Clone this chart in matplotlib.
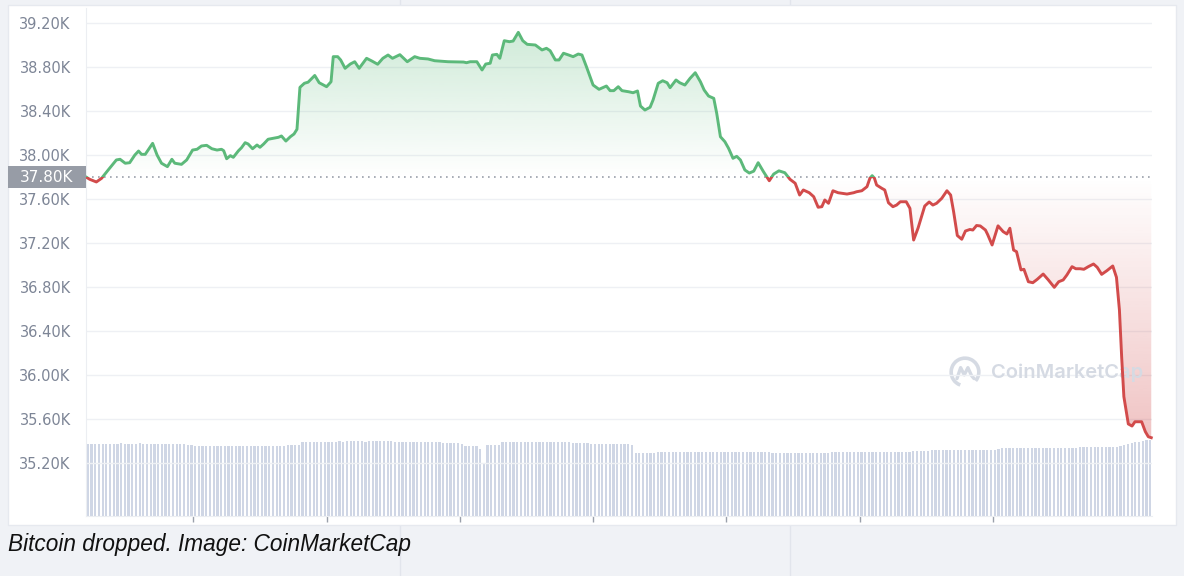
import numpy as np
import matplotlib.pyplot as plt
from matplotlib.patches import Rectangle, Arc
from matplotlib.path import Path
from matplotlib.lines import Line2D
from matplotlib.colors import to_rgb

# price (thousand USD) at minutes since start of the 24h window
minutes = [0, 5, 14, 21, 30, 41, 46, 53, 59, 66,
           71, 75, 80, 90, 96, 102, 110, 116, 120, 129,
           136, 144, 150, 156, 163, 170, 177, 183, 186, 190,
           195, 199, 206, 210, 215, 219, 225, 231, 235, 240,
           246, 253, 260, 264, 270, 276, 281, 285, 289, 295,
           300, 309, 315, 325, 331, 334, 340, 344, 350, 357,
           363, 369, 379, 386, 394, 401, 408, 414, 424, 434,
           444, 451, 462, 471, 489, 510, 514, 519, 528, 535,
           540, 546, 549, 555, 559, 565, 572, 577, 584, 590,
           596, 607, 616, 622, 627, 634, 639, 645, 652, 658,
           665, 670, 676, 685, 693, 703, 708, 713, 719, 724,
           733, 739, 745, 749, 755, 762, 766, 773, 779, 785,
           789, 797, 802, 809, 816, 823, 830, 835, 841, 848,
           852, 857, 863, 868, 874, 879, 884, 890, 896, 902,
           908, 915, 923, 929, 936, 944, 951, 958, 964, 969,
           977, 983, 989, 994, 998, 1003, 1009, 1016, 1028, 1037,
           1041, 1048, 1055, 1059, 1062, 1065, 1068, 1075, 1079, 1084,
           1090, 1095, 1100, 1108, 1113, 1118, 1124, 1133, 1139, 1144,
           1149, 1156, 1163, 1168, 1172, 1177, 1183, 1188, 1194, 1198,
           1203, 1208, 1215, 1218, 1224, 1232, 1239, 1244, 1248, 1253,
           1257, 1263, 1267, 1273, 1279, 1285, 1293, 1300, 1308, 1314,
           1320, 1325, 1332, 1337, 1343, 1348, 1354, 1361, 1366, 1372,
           1379, 1387, 1392, 1396, 1399, 1402, 1408, 1413, 1417, 1426,
           1431, 1435, 1439]
price_k = [37.800, 37.779, 37.755, 37.788, 37.864, 37.955, 37.961, 37.925, 37.930, 38.000,
           38.036, 38.006, 38.006, 38.106, 38.000, 37.925, 37.894, 37.961, 37.925, 37.915,
           37.955, 38.045, 38.052, 38.082, 38.088, 38.057, 38.045, 38.052, 38.039, 37.966,
           37.994, 37.979, 38.039, 38.066, 38.112, 38.100, 38.057, 38.091, 38.070, 38.100,
           38.143, 38.152, 38.161, 38.173, 38.127, 38.166, 38.191, 38.234, 38.615, 38.652,
           38.662, 38.723, 38.657, 38.621, 38.666, 38.894, 38.894, 38.864, 38.788, 38.827,
           38.848, 38.788, 38.879, 38.855, 38.825, 38.879, 38.909, 38.879, 38.912, 38.848,
           38.894, 38.879, 38.873, 38.857, 38.848, 38.845, 38.839, 38.848, 38.848, 38.773,
           38.827, 38.834, 38.909, 38.915, 38.879, 39.039, 39.030, 39.036, 39.115, 39.039,
           39.006, 39.000, 38.955, 38.970, 38.948, 38.864, 38.864, 38.925, 38.909, 38.894,
           38.918, 38.909, 38.803, 38.636, 38.597, 38.627, 38.585, 38.585, 38.621, 38.585,
           38.575, 38.566, 38.582, 38.445, 38.409, 38.434, 38.500, 38.652, 38.675, 38.657,
           38.612, 38.682, 38.657, 38.636, 38.697, 38.748, 38.666, 38.591, 38.536, 38.515,
           38.379, 38.166, 38.121, 38.061, 37.970, 37.988, 37.955, 37.864, 37.836, 37.853,
           37.930, 37.850, 37.766, 37.827, 37.856, 37.839, 37.779, 37.743, 37.636, 37.682,
           37.657, 37.621, 37.525, 37.530, 37.591, 37.561, 37.675, 37.657, 37.645, 37.657,
           37.666, 37.675, 37.712, 37.790, 37.812, 37.790, 37.727, 37.697, 37.682, 37.566,
           37.530, 37.545, 37.575, 37.575, 37.515, 37.227, 37.336, 37.536, 37.573, 37.545,
           37.561, 37.606, 37.675, 37.636, 37.485, 37.268, 37.234, 37.309, 37.323, 37.318,
           37.359, 37.355, 37.318, 37.277, 37.182, 37.356, 37.303, 37.282, 37.334, 37.136,
           37.121, 36.955, 36.961, 36.848, 36.839, 36.870, 36.918, 36.864, 36.797, 36.848,
           36.864, 36.909, 36.985, 36.966, 36.966, 36.961, 36.985, 37.009, 36.979, 36.915,
           36.948, 36.991, 36.888, 36.591, 36.166, 35.803, 35.555, 35.536, 35.575, 35.575,
           35.485, 35.439, 35.430]

# 24h volume (bn USD), one bar per 5 minutes
volume_bn = [24.2, 24.1, 24.2, 24.2, 24.0, 24.1, 24.2, 24.1, 24.1, 24.3,
             24.2, 24.1, 24.1, 24.2, 24.3, 24.2, 24.1, 24.2, 24.1, 24.1,
             24.2, 24.1, 24.2, 24.1, 24.1, 24.2, 24.0, 23.9,
             23.6, 23.5, 23.5, 23.4, 23.5, 23.5, 23.4, 23.5, 23.4, 23.4,
             23.5, 23.4, 23.4, 23.4, 23.4, 23.4, 23.5, 23.4, 23.4, 23.4,
             23.4, 23.5, 23.5, 23.4, 23.5, 23.5, 23.6, 23.6, 23.6, 23.7,
             24.7, 24.8, 24.8, 24.8, 24.9, 24.8, 24.9, 24.9, 24.9, 24.9,
             25.0, 24.9, 25.0, 25.0, 25.0, 25.0, 25.0, 24.9, 25.0, 25.0,
             25.0, 25.0, 25.0, 25.0, 25.0, 24.9, 24.9, 24.9, 24.9, 24.9,
             24.9, 24.8, 24.8, 24.8, 24.8, 24.8, 24.7, 24.7,
             24.3, 24.3, 24.3, 24.3, 24.3, 24.2,
             23.4, 23.4, 23.3, 23.4, 22.4, 17.4, 23.7, 23.7, 23.8, 23.9,
             24.6, 24.7, 24.7, 24.8, 24.8, 24.8, 24.8, 24.8, 24.8, 24.8,
             24.8, 24.8, 24.7, 24.7, 24.7, 24.7, 24.6, 24.6, 24.6, 24.5,
             24.5, 24.5, 24.4, 24.4,
             24.1, 24.1, 24.1, 24.0, 24.0, 24.0, 24.0, 24.0, 24.0, 24.0, 24.0, 23.9,
             21.2, 21.2, 21.2, 21.2, 21.2, 21.2, 21.3, 21.3, 21.4, 21.4,
             21.4, 21.4, 21.4, 21.4, 21.4, 21.3, 21.3, 21.3, 21.3, 21.3,
             21.3, 21.3, 21.3, 21.3, 21.3, 21.3, 21.4, 21.4, 21.4,
             21.4, 21.4, 21.4, 21.3, 21.3, 21.3, 21.3, 21.3, 21.2, 21.2,
             21.2, 21.2, 21.2, 21.2, 21.2, 21.2, 21.2, 21.2, 21.2, 21.2,
             21.2, 21.2, 21.2, 21.2, 21.3, 21.3, 21.3, 21.3, 21.3, 21.3,
             21.3, 21.3, 21.3, 21.3, 21.4, 21.4, 21.4, 21.4, 21.4, 21.4,
             21.4, 21.5, 21.5,
             21.5, 21.5, 21.5, 21.6, 21.6, 21.6, 21.7, 21.7,
             22.0, 22.0, 22.0, 22.1, 22.1, 22.1, 22.1, 22.1, 22.1, 22.1,
             22.1, 22.1, 22.1, 22.1, 22.2, 22.2, 22.2, 22.2, 22.3,
             22.6, 22.6, 22.6, 22.7, 22.7, 22.7, 22.7, 22.7, 22.7, 22.7,
             22.7, 22.7, 22.8, 22.8, 22.8, 22.8, 22.8, 22.8, 22.9, 22.9, 22.9,
             23.2, 23.2, 23.2, 23.2, 23.2, 23.2, 23.2, 23.2, 23.2, 23.2, 23.2,
             23.5, 23.8, 24.0, 24.3, 24.6, 24.8, 25.1, 25.3, 25.6]

open_price = 37.80
y_ticks = [35.2, 35.6, 36.0, 36.4, 36.8, 37.2, 37.6, 38.0, 38.4, 38.8, 39.2]
x_ticks = [145, 325, 505, 685, 865, 1045, 1225]

GREEN = "#5cb97a"
RED = "#d24b4b"

t = np.array(minutes, dtype=float)
p = np.array(price_k)

fig = plt.figure(figsize=(11.84, 5.76), dpi=100, facecolor="#f0f2f6")
W, H = 1184.0, 576.0

# background page lines and white panel
for xp in (400, 790):
    fig.add_artist(Line2D([xp / W, xp / W], [0, 1], transform=fig.transFigure,
                          color="#e2e5ec", lw=1, zorder=-3))
fig.patches.append(Rectangle((8 / W, 1 - 525 / H), 1168 / W, 520 / H,
                             transform=fig.transFigure, facecolor="white",
                             edgecolor="#e6e9ef", lw=1, zorder=-2))

ax = fig.add_axes([86 / W, 1 - 516 / H, 1066 / W, 508 / H])
ax2 = ax.twinx()
ax.set_zorder(2)
ax.patch.set_visible(False)
ax2.set_zorder(1)

# volume bars
nb = len(volume_bn)
bx = (np.arange(nb) + 0.5) * 1440.0 / nb
ax2.bar(bx, volume_bn, width=3.0, color="#cfd6e5", edgecolor="none")
ax2.set_ylim(0, 170)
ax2.set_yticks([])
for s in ax2.spines.values():
    s.set_visible(False)


def gradient_fill(ax, x, y, base, color, alpha_max, above):
    if above:
        mask = y >= base
        lo, hi = base, y.max()
        alphas = np.linspace(0, alpha_max, 256)
    else:
        mask = y <= base
        lo, hi = y.min(), base
        alphas = np.linspace(alpha_max, 0, 256)
    img = np.zeros((256, 1, 4))
    img[..., :3] = to_rgb(color)
    img[..., 3] = alphas[:, None]
    im = ax.imshow(img, extent=[x[0], x[-1], lo, hi], origin="lower",
                   aspect="auto", zorder=1, interpolation="bilinear")
    poly = ax.fill_between(x, y, base, where=mask, interpolate=True,
                           facecolor="none", edgecolor="none")
    im.set_clip_path(Path.make_compound_path(*poly.get_paths()), transform=ax.transData)


gradient_fill(ax, t, p, open_price, GREEN, 0.29, True)
gradient_fill(ax, t, p, open_price, RED, 0.33, False)

# price line, green above the open and red below it
up, = ax.plot(t, p, color=GREEN, lw=2.1, zorder=4, solid_joinstyle="round")
up.set_clip_path(Rectangle((-10, open_price), 1460, 3, transform=ax.transData))
dn, = ax.plot(t, p, color=RED, lw=2.1, zorder=4, solid_joinstyle="round")
dn.set_clip_path(Rectangle((-10, open_price - 4), 1460, 4, transform=ax.transData))

ax.axhline(open_price, color="#9aa0aa", lw=1.2, ls=(0, (1, 2.6)), zorder=3)

ax.set_xlim(0, 1440)
ax.set_ylim(39.2 - 493 / 110, 39.2 + 15 / 110)
ax.set_yticks(y_ticks)
ax.set_yticklabels([f"{v:.2f}K" for v in y_ticks])
ax.grid(axis="y", color="#eef0f4", lw=1)
ax.set_axisbelow(True)
ax.tick_params(axis="y", length=0, pad=11, labelsize=10.5, labelcolor="#7d8596")
ax.set_xticks(x_ticks)
ax.tick_params(axis="x", length=4, width=1, color="#9aa0ab", labelbottom=False)
for k in ("top", "right"):
    ax.spines[k].set_visible(False)
ax.spines["left"].set_color("#eceef2")
ax.spines["bottom"].set_color("#eceef2")

# watermark
ax.text(991 / W, 1 - 373 / H, "CoinMarketCap", transform=fig.transFigure,
        fontsize=14.5, color="#d5dae3", fontweight="semibold", family="Inter",
        va="center", ha="left", zorder=2)
lg = fig.add_axes([(965 - 16) / W, 1 - (372 + 16) / H, 32 / W, 32 / H])
lg.set_xlim(-1.1, 1.1)
lg.set_ylim(-1.1, 1.1)
lg.set_axis_off()
lg.add_patch(Arc((0, 0), 1.9, 1.9, theta1=-40, theta2=250, color="#d5dae3", lw=2.6))
lg.plot([-0.55, -0.3, -0.05, 0.2, 0.45, 0.62], [-0.45, 0.3, -0.2, 0.3, -0.25, -0.45],
        color="#d5dae3", lw=2.4, solid_joinstyle="round", solid_capstyle="round")

# open price tag
fig.patches.append(Rectangle((8 / W, 1 - 188 / H), 78 / W, 22 / H,
                             transform=fig.transFigure, facecolor="#979ca6",
                             edgecolor="none", zorder=5))
fig.text(47 / W, 1 - 177 / H, "37.80K", color="white", fontsize=11,
         ha="center", va="center", zorder=6)

fig.text(8 / W, 1 - 545 / H, "Bitcoin dropped. Image: CoinMarketCap",
         fontsize=16.3, style="italic", family="Liberation Sans", color="#111111",
         va="center", ha="left")

fig.savefig("out.png", dpi=100, facecolor=fig.get_facecolor())
